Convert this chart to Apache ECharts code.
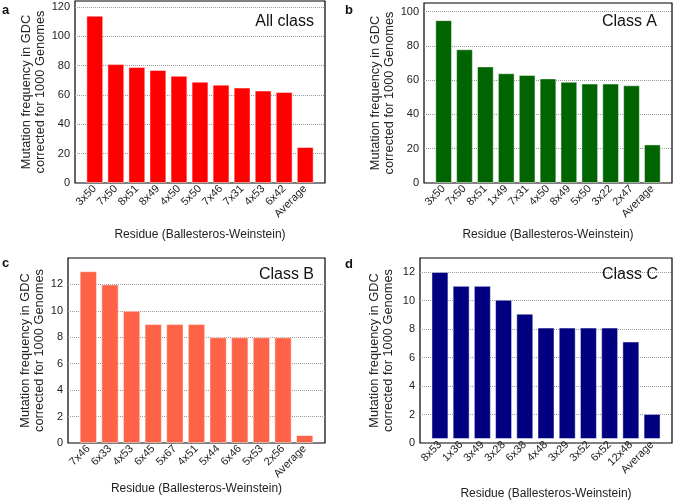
<!DOCTYPE html>
<html>
<head>
<meta charset="utf-8">
<script src="https://cdn.jsdelivr.net/npm/echarts@6/dist/echarts.min.js"></script>
<style>
    html, body { margin: 0; padding: 0; background: #fff; }
    #chart { width: 676px; height: 501px; }
</style>
</head>
<body>
<div id="chart"></div>
<script>
// data
var residuesAll = ['3x50', '7x50', '8x51', '8x49', '4x50', '5x50', '7x46', '7x31', '4x53', '6x42', 'Average'];
var countsAll = [114, 81, 79, 77, 73, 69, 67, 65, 63, 62, 24.5];

var residuesA = ['3x50', '7x50', '8x51', '1x49', '7x31', '4x50', '8x49', '5x50', '3x22', '2x47', 'Average'];
var countsA = [95, 78, 68, 64, 63, 61, 59, 58, 58, 57, 22.5];

var residuesB = ['7x46', '6x33', '4x53', '6x45', '5x67', '4x51', '5x44', '6x46', '5x53', '2x56', 'Average'];
var countsB = [13, 12, 10, 9, 9, 9, 8, 8, 8, 8, 0.6];

var residuesC = ['8x53', '1x36', '3x49', '3x28', '6x38', '4x48', '3x29', '3x52', '6x52', '12x48', 'Average'];
var countsC = [12, 11, 11, 10, 9, 8, 8, 8, 8, 7, 1.8];

var panelTitles = ['All class', 'Class A', 'Class B', 'Class C'];
var panelLetters = ['a', 'b', 'c', 'd'];

var FONT = '"Liberation Sans", Arial, sans-serif';
var yName = 'Mutation frequency in GDC\ncorrected for 1000 Genomes';
var xName = 'Residue (Ballesteros-Weinstein)';

// layout of each panel (pixels)
var panels = [
    { cats: residuesAll, vals: countsAll, color: '#ff0000', x0: 75, x1: 325, y0: 1, y1: 183, max: 124, step: 20, yGap: 25, xGap: 46, titleRight: 362, titleTop: 14, letterX: 2, letterY: 4 },
    { cats: residuesA, vals: countsA, color: '#006400', x0: 424, x1: 672, y0: 3, y1: 183, max: 105, step: 20, yGap: 28, xGap: 46, titleRight: 19, titleTop: 14, letterX: 345, letterY: 4 },
    { cats: residuesB, vals: countsB, color: '#ff6347', x0: 68, x1: 325, y0: 258, y1: 443, max: 14, step: 2, yGap: 22, xGap: 39, titleRight: 362, titleTop: 267, letterX: 2, letterY: 257 },
    { cats: residuesC, vals: countsC, color: '#000080', x0: 420, x1: 672, y0: 258, y1: 443, max: 13, step: 2, yGap: 25, xGap: 49, titleRight: 18, titleTop: 267, letterX: 345, letterY: 258 }
];

var grid = [], xAxis = [], yAxis = [], series = [], title = [];

panels.forEach(function (p, i) {
    var w = p.x1 - p.x0;
    var h = p.y1 - p.y0;
    var inset = w * 0.44 / 11.88;

    // outer frame grid: box + y labels + dotted grid lines
    grid.push({ left: p.x0, top: p.y0, width: w, height: h, show: true, borderColor: '#000', borderWidth: 1.2, backgroundColor: 'transparent' });
    xAxis.push({ type: 'value', gridIndex: 2 * i, min: 0, max: 1, show: false });
    yAxis.push({
        type: 'value', gridIndex: 2 * i, min: 0, max: p.max, interval: p.step,
        name: yName, nameLocation: 'middle', nameGap: p.yGap,
        nameTextStyle: { fontFamily: FONT, fontSize: 12.8, color: '#222', lineHeight: 14 },
        axisLine: { show: false }, axisTick: { show: false },
        axisLabel: { fontFamily: FONT, fontSize: 11, color: '#222', margin: 5, showMaxLabel: false },
        splitLine: { show: true, showMinLine: false, showMaxLine: false, lineStyle: { type: 'dotted', color: '#999', width: 1 } }
    });

    // inner grid: bars + category labels
    grid.push({ left: p.x0 + inset, top: p.y0, width: w - 2 * inset, height: h });
    xAxis.push({
        type: 'category', gridIndex: 2 * i + 1, data: p.cats,
        name: xName, nameLocation: 'middle', nameGap: p.xGap,
        nameTextStyle: { fontFamily: FONT, fontSize: 12, color: '#222' },
        axisLine: { show: false }, axisTick: { show: false },
        axisLabel: { rotate: 45, interval: 0, fontFamily: FONT, fontSize: 11, color: '#222', margin: 4 }
    });
    yAxis.push({ type: 'value', gridIndex: 2 * i + 1, min: 0, max: p.max, show: false });

    series.push({
        type: 'bar', xAxisIndex: 2 * i + 1, yAxisIndex: 2 * i + 1, data: p.vals,
        barCategoryGap: '20%',
        itemStyle: { color: p.color, borderColor: 'rgba(255,255,255,0.45)', borderWidth: 1 },
        silent: true, animation: false
    });

    title.push({ text: panelTitles[i], right: p.titleRight, top: p.titleTop, padding: 0,
        textStyle: { fontFamily: FONT, fontSize: 16, fontWeight: 'normal', color: '#111' } });
    title.push({ text: panelLetters[i], left: p.letterX, top: p.letterY, padding: 0,
        textStyle: { fontFamily: FONT, fontSize: 13, fontWeight: 'bold', color: '#111' } });
});

var chart = echarts.init(document.getElementById('chart'));
chart.setOption({
    animation: false,
    title: title,
    grid: grid,
    xAxis: xAxis,
    yAxis: yAxis,
    series: series
});
</script>
</body>
</html>
